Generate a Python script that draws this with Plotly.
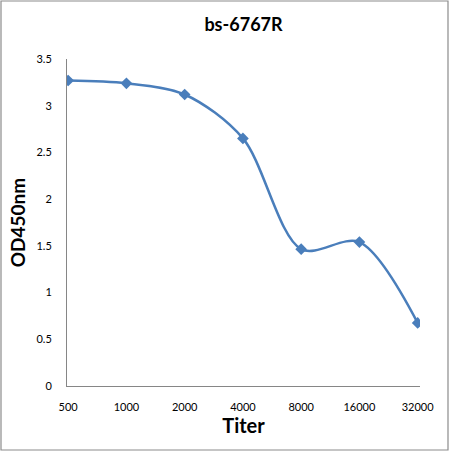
import plotly.graph_objects as go

# Дані
titer = ['500', '1000', '2000', '4000', '8000', '16000', '32000']
od450 = [3.27, 3.24, 3.12, 2.65, 1.465, 1.54, 0.675]
y_ticks = [0, 0.5, 1, 1.5, 2, 2.5, 3, 3.5]
y_labels = ['0', '0.5', '1', '1.5', '2', '2.5', '3', '3.5']

W, H = 450, 452
ml, mr, mt, mb = 67, 30, 59, 66
pw, ph = W - ml - mr, H - mt - mb

fig = go.Figure()

fig.add_trace(go.Scatter(
    x=titer,
    y=od450,
    mode='lines+markers',
    line=dict(color='#4a7ebb', width=2.5, shape='spline', smoothing=0.9),
    marker=dict(symbol='diamond', size=9, color='#4a7ebb'),
    showlegend=False
))

# рамка навколо картинки
fig.add_shape(
    type='rect', xref='paper', yref='paper',
    x0=(1 - ml) / pw, x1=(W - 2 - ml) / pw,
    y0=(H - mb - (H - 2)) / ph, y1=(H - mb - 1) / ph,
    line=dict(color='#8c8c8c', width=1.2)
)

fig.update_layout(
    width=W, height=H,
    margin=dict(l=ml, r=mr, t=mt, b=mb),
    paper_bgcolor='white',
    plot_bgcolor='white',
    font=dict(family='Lato, Open Sans, sans-serif', color='black'),
    title=dict(text='<b>bs-6767R</b>', x=0.5, xref='paper', xanchor='center',
               y=1 - 25 / H, yanchor='middle',
               font=dict(size=18)),
    xaxis=dict(
        type='category', range=[-0.02, 6.04],
        showline=True, linecolor='#868686', linewidth=1,
        showgrid=False, zeroline=False,
        ticks='outside', ticklen=11, tickcolor='rgba(0,0,0,0)',
        tickfont=dict(size=11),
        title=dict(text='<b>Titer</b>', font=dict(size=20), standoff=4)
    ),
    yaxis=dict(
        range=[0, 3.5],
        tickvals=y_ticks, ticktext=y_labels,
        showline=True, linecolor='#868686', linewidth=1,
        showgrid=False, zeroline=False,
        ticks='outside', ticklen=12, tickcolor='rgba(0,0,0,0)',
        tickfont=dict(size=11),
        title=dict(text='<b>OD450nm</b>', font=dict(size=19), standoff=5)
    )
)

# прибрати стандартний відступ сторінки
fig.write_html('out.html', config={'displayModeBar': False},
               post_script="document.body.style.margin='0';")
